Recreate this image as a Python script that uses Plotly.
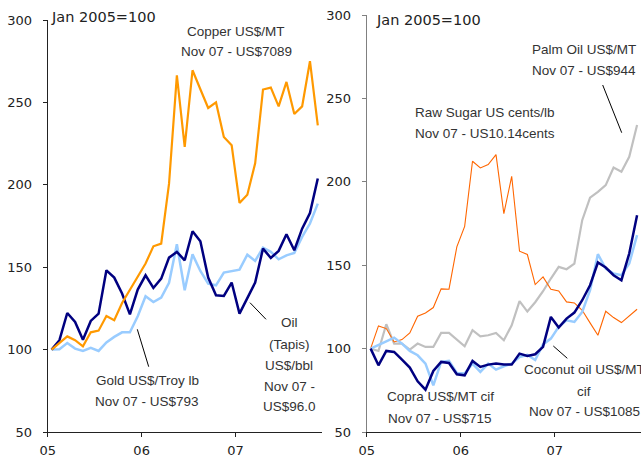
import plotly.graph_objects as go

W, H = 641, 459

# ---------------- data (index: Jan 2005 = 0 ... Nov 2007 = 34) ----------------
months = list(range(35))
year_ticks = [-0.5, 11.5, 23.5]
year_labels = ["05", "06", "07"]
y_ticks = [50, 100, 150, 200, 250, 300]

copper = [100, 104, 108, 105.7, 102, 110.5, 111.5, 120.4, 117.8, 128.3, 136, 143.7,
          152.2, 162.7, 164.3, 200.7, 266.4, 223, 269.5, 258, 246.6, 250, 229, 224,
          189, 194, 213, 257.8, 259, 247.6, 262.4, 243, 247.6, 275, 236]
oil = [100, 105.7, 122.2, 116.8, 106, 117.4, 121.8, 148.1, 143.7, 134, 121.4, 136.4,
       145.1, 137.4, 143.1, 155.8, 159.3, 154.2, 171.8, 165.7, 143.7, 133, 132.6, 140.7,
       121.8, 130.9, 140.7, 161.3, 155.6, 159.9, 170, 160.3, 173.4, 182.9, 203.8]
gold = [100, 100.2, 104, 100.6, 99.2, 101, 99.2, 104.4, 107.7, 110.5, 110.5, 120.2,
        132.4, 128.9, 131.6, 140.5, 163.9, 136, 157.8, 147.7, 140, 139, 146.7, 147.5,
        148.5, 157.6, 153.8, 161.9, 159.3, 154.8, 157.2, 158.7, 168.4, 176.5, 188.6]

sugar = [100, 113.6, 112, 104, 105.4, 109.4, 119.4, 121.4, 124.6, 135.8, 135.6, 161,
         173.3, 212.3, 208.3, 210.3, 216.3, 180.9, 203.3, 158.4, 156.4, 138.4, 143, 135.6,
         134.6, 128, 127.4, 123, 115.4, 108, 122.4, 118.6, 115.6, 119.4, 123.6]
palm = [100, 98.6, 114.6, 103, 103, 99.4, 103, 101, 101, 109.4, 109.4, 105.4,
        101.4, 111, 107.4, 108, 109.4, 105, 114, 128.5, 122.2, 127.8, 134.4, 142,
        149, 147.6, 151, 177, 190.5, 194, 198, 208.5, 206, 215, 234]
coconut = [100, 90, 98.6, 98, 93.4, 88.6, 80.4, 75.4, 86.6, 92, 91.4, 84.6,
           84, 92.6, 89, 90.4, 91, 90.4, 90.4, 97, 95.6, 96.6, 101, 119,
           112.6, 118, 121.6, 129, 138, 151.6, 148.6, 144, 141, 157, 180]
copra = [100, 102.4, 104.4, 106.6, 103, 98.6, 96, 91, 78, 92, 92.6, 85.4,
         85, 91, 86, 91, 87.4, 89.4, 91, 95, 96.2, 93.2, 102.5, 106,
         113, 117, 116, 122, 135, 156.6, 148, 145, 144, 151, 168]

# ---------------- figure ----------------
fig = go.Figure()

def add(y, color, width, xa, ya, name):
    fig.add_trace(go.Scatter(x=months, y=y, mode="lines", name=name,
                             line=dict(color=color, width=width),
                             xaxis=xa, yaxis=ya, hoverinfo="skip"))

add(gold, "#99CCFF", 2.5, "x", "y", "Gold")
add(oil, "#000080", 2.5, "x", "y", "Oil")
add(copper, "#FF9900", 2.2, "x", "y", "Copper")

add(palm, "#C0C0C0", 2.2, "x2", "y2", "Palm Oil")
add(sugar, "#FF6600", 1.1, "x2", "y2", "Raw Sugar")
add(copra, "#99CCFF", 2.5, "x2", "y2", "Copra")
add(coconut, "#000080", 2.5, "x2", "y2", "Coconut oil")

tickfont = dict(family="DejaVu Sans, Verdana, sans-serif", size=13, color="#222222")
titlefont = dict(family="DejaVu Sans, Verdana, sans-serif", size=14.5, color="#222222")

def xaxis(dom, lc):
    return dict(domain=dom, range=[-0.5, 34.5], tickmode="array", tickvals=year_ticks,
                ticktext=year_labels, showgrid=False, zeroline=False, showline=True,
                linecolor=lc, linewidth=1, ticks="outside", ticklen=4, tickcolor=lc,
                tickfont=tickfont, automargin=False, fixedrange=True, ticklabelstandoff=2)

def yaxis(dom, lc, anchor):
    return dict(domain=dom, range=[50, 300], tickmode="array", tickvals=y_ticks,
                showgrid=False, zeroline=False, showline=True, linecolor=lc, linewidth=1,
                ticks="outside", ticklen=4, tickcolor=lc, tickfont=tickfont,
                automargin=False, fixedrange=True, anchor=anchor, ticklabelstandoff=8)

fig.update_layout(
    width=W, height=H,
    margin=dict(l=0, r=0, t=0, b=0, pad=0),
    paper_bgcolor="white", plot_bgcolor="white",
    showlegend=False,
    xaxis=xaxis([47.7 / W, 321.7 / W], "#222222"),
    yaxis=yaxis([1 - 432 / H, 1 - 20 / H], "#222222", "x"),
    xaxis2=xaxis([366.7 / W, 1.0], "#222222"),
    yaxis2=yaxis([1 - 432 / H, 1 - 15 / H], "#808080", "x2"),
)
fig.layout.xaxis2.anchor = "y2"
fig.layout.xaxis.anchor = "y"

def px(x):
    return x / W

def py(y):
    return 1 - y / H

labfont = dict(family="Liberation Sans Narrow, Arial Narrow, Liberation Sans, Arial, sans-serif",
               size=13.5, color="#333333")

def label(lines, x, ys, xanchor="center", font=labfont):
    for text, y in zip(lines, ys):
        fig.add_annotation(text=text, x=px(x), y=py(y), xref="paper", yref="paper",
                           xanchor=xanchor, yanchor="middle", showarrow=False,
                           font=font, align="center", borderpad=0)

label(["Jan 2005=100"], 50, [17], xanchor="left", font=titlefont)
label(["Jan 2005=100"], 375, [20], xanchor="left", font=titlefont)
label(["Copper US$/MT", "Nov 07 - US$7089"], 236, [31, 52])
label(["Gold US$/Troy lb", "Nov 07 - US$793"], 147, [380.7, 401])
label(["Oil", "(Tapis)", "US$/bbl", "Nov 07 -", "US$96.0"], 289.3, [322.7, 344, 365, 386, 406])
label(["Palm Oil US$/MT", "Nov 07 - US$944"], 583.7, [49.3, 70])
label(["Raw Sugar US cents/lb", "Nov 07 - US10.14cents"], 485, [112.7, 133.3])
label(["Copra US$/MT cif", "Nov 07 - US$715"], 440, [396.7, 418.3])
label(["Coconut oil US$/MT", "cif", "Nov 07 - US$1085"], 584, [369.3, 391, 411.7])

def pointer(x0, y0, x1, y1):
    fig.add_shape(type="line", xref="paper", yref="paper",
                  x0=px(x0), y0=py(y0), x1=px(x1), y1=py(y1),
                  line=dict(color="#000000", width=1))

pointer(137.3, 329.3, 148.7, 366.7)
pointer(250, 302.7, 266, 319.3)
pointer(602.7, 85, 621.7, 132.7)
pointer(553.3, 346, 567.3, 358.3)

fig.write_html("out.html", config={"displayModeBar": False, "staticPlot": True},
               post_script="document.body.style.margin='0';document.body.style.overflow='hidden';")
